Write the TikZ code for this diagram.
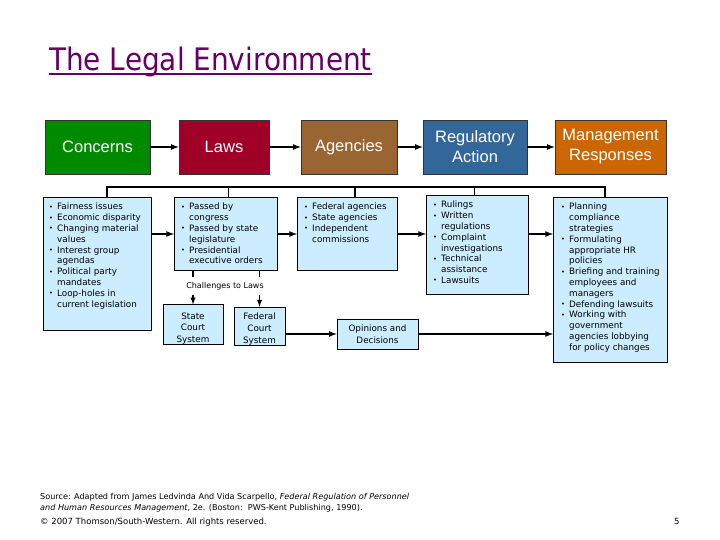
\documentclass[tikz,border=0pt]{standalone}
\usepackage{fontspec}
\setmainfont{DejaVu Sans}
\newfontfamily\headfont{Liberation Sans}
\newfontfamily\titlefont[FakeStretch=0.9]{DejaVu Sans}
\usetikzlibrary{arrows,positioning,calc}
\definecolor{concerngreen}{RGB}{0,138,0}
\definecolor{lawsred}{RGB}{160,0,40}
\definecolor{agencybrown}{RGB}{153,102,51}
\definecolor{regblue}{RGB}{51,102,153}
\definecolor{mgmtorange}{RGB}{204,102,0}
\definecolor{boxblue}{RGB}{204,236,255}
\definecolor{titlepurple}{RGB}{102,0,102}
\tikzset{head node/.style={draw=black!80,line width=0.6pt,text=white,align=center,
    font=\headfont\fontsize{16.5}{20}\selectfont,minimum height=54,inner sep=0pt},
  list box/.style={draw,fill=boxblue,line width=0.8pt,anchor=north west,inner sep=0pt},
  list text/.style={anchor=north west,align=left,inner sep=0pt,font=\fontsize{8.8}{10.8}\selectfont},
  court node/.style={draw,fill=boxblue,line width=0.6pt,align=center,inner sep=0pt,
    font=\fontsize{8.8}{11.6}\selectfont},
  flow/.style={-latex,line width=1.6pt},
  bus/.style={line width=2pt},
  thin bus/.style={line width=1pt},
}
\newcommand{\itm}{\makebox[8pt][l]{\raisebox{0.6pt}{\scalebox{0.75}{\textbullet}}}}
\newcommand{\cnt}{\hspace*{8pt}}

\begin{document}
\begin{tikzpicture}[x=1pt,y=-1pt]
\fill[white] (0,0) rectangle (720,540);
\useasboundingbox (0,0) rectangle (720,540);

% title
\node[anchor=base west,inner sep=0pt,text=titlepurple,font=\titlefont\fontsize{31}{36}\selectfont]
  (title) at (49,71) {The Legal Environment};
\draw[titlepurple,line width=1.8pt] ([yshift=-3pt]title.base west) -- ([yshift=-3pt]title.base east);

% top row
\node[head node,fill=concerngreen,minimum width=105] (concerns) at (97.5,147) {Concerns};
\node[head node,fill=lawsred,minimum width=90] (laws) at (224,147) {Laws};
\node[head node,fill=agencybrown,minimum width=96] (agencies) at (349,147) {Agencies};
\node[head node,fill=regblue,minimum width=104] (regulatory) at (475,147) {Regulatory\\Action};
\node[head node,fill=mgmtorange,minimum width=111] (management) at (610.5,147) {Management\\Responses};

\draw[flow] (concerns) -- (laws);
\draw[flow] (laws) -- (agencies);
\draw[flow] (agencies) -- (regulatory);
\draw[flow] (regulatory) -- (management);

% lower row
\node[list box,minimum width=108,minimum height=133] (concernlist) at (43,197) {};
\node[list box,line width=0.6pt,minimum width=103,minimum height=73] (lawslist) at (174,197) {};
\node[list box,minimum width=100,minimum height=73] (agencylist) at (297,197) {};
\node[list box,line width=0.6pt,minimum width=102,minimum height=99] (reglist) at (426,195) {};
\node[list box,minimum width=114,minimum height=165] (mgmtlist) at (553,197) {};

\node[list text] (concerntext) at ([xshift=6,yshift=-6]concernlist.north west)
  {\itm Fairness issues\\ \itm Economic disparity\\ \itm Changing material\\ \cnt values\\
   \itm Interest group\\ \cnt agendas\\ \itm Political party\\ \cnt mandates\\
   \itm Loop-holes in\\ \cnt current legislation};
\node[list text] (lawstext) at ([xshift=7,yshift=-6]lawslist.north west)
  {\itm Passed by\\ \cnt congress\\ \itm Passed by state\\ \cnt legislature\\
   \itm Presidential\\ \cnt executive orders};
\node[list text] (agencytext) at ([xshift=7,yshift=-6]agencylist.north west)
  {\itm Federal agencies\\ \itm State agencies\\ \itm Independent\\ \cnt commissions};
\node[list text] (regtext) at ([xshift=7,yshift=-6]reglist.north west)
  {\itm Rulings\\ \itm Written\\ \cnt regulations\\ \itm Complaint\\ \cnt investigations\\
   \itm Technical\\ \cnt assistance\\ \itm Lawsuits};
\node[list text] (mgmttext) at ([xshift=8,yshift=-6]mgmtlist.north west)
  {\itm Planning\\ \cnt compliance\\ \cnt strategies\\ \itm Formulating\\ \cnt appropriate HR\\
   \cnt policies\\ \itm Briefing and training\\ \cnt employees and\\ \cnt managers\\
   \itm Defending lawsuits\\ \itm Working with\\ \cnt government\\ \cnt agencies lobbying\\
   \cnt for policy changes};

% bus above the lists
\coordinate (busL) at (107,187);
\coordinate (busR) at (605,187);
\coordinate (tapLaws) at (228,187);
\coordinate (tapAgency) at (355,187);
\coordinate (tapReg) at (474,187);
\draw[bus] (busL |- concernlist.north) -- (busL) -- (busR) -- (busR |- mgmtlist.north);
\draw[bus] (tapAgency) -- (tapAgency |- agencylist.north);
\draw[thin bus] (tapLaws) -- (tapLaws |- lawslist.north);
\draw[thin bus] (tapReg) -- (tapReg |- reglist.north);

\draw[flow] (concernlist.east |- 0,234) -- (lawslist.west |- 0,234);
\draw[flow] (lawslist.east |- 0,234) -- (agencylist.west |- 0,234);
\draw[flow] (agencylist.east |- 0,234) -- (reglist.west |- 0,234);
\draw[flow] (reglist.east |- 0,234) -- (mgmtlist.west |- 0,234);

% courts
\node[court node,minimum width=60,minimum height=39] (state) at (193,324.5) {\rule{0pt}{14.5pt}State\\Court\\System};
\node[court node,minimum width=51,minimum height=38] (federal) at (259.5,326) {\rule{0pt}{13pt}Federal\\Court\\System};
\node[court node,minimum width=81,minimum height=30] (opinions) at (377.5,334) {Opinions and\\Decisions};

\draw[flow,line width=1.3pt] (lawslist.south -| state) -- (state.north);
\draw[flow,line width=1.3pt] (lawslist.south -| federal) -- (federal.north);
\node[fill=white,inner xsep=1pt,inner ysep=5pt,font=\fontsize{8}{10}\selectfont] (challenges) at (225,286) {Challenges to Laws};

\draw[flow] (federal.east |- opinions) -- (opinions.west);
\draw[flow] (opinions.east) -- (mgmtlist.west |- opinions.east);

% footer
\node[anchor=base west,align=left,inner sep=0pt,font=\fontsize{8.1}{11}\selectfont] (source) at (40,510)
  {Source: Adapted from James Ledvinda And Vida Scarpello, \textit{Federal Regulation of Personnel}\\
   \textit{and Human Resources Management}, 2e. (Boston:~~PWS-Kent Publishing, 1990).};
\node[anchor=base west,inner sep=0pt,font=\fontsize{8.5}{11}\selectfont] (copyright) at (40,524)
  {© 2007 Thomson/South-Western. All rights reserved.};
\node[anchor=base west,inner sep=0pt,font=\fontsize{8.5}{11}\selectfont] (pagenum) at (674,524) {5};
\end{tikzpicture}
\end{document}
